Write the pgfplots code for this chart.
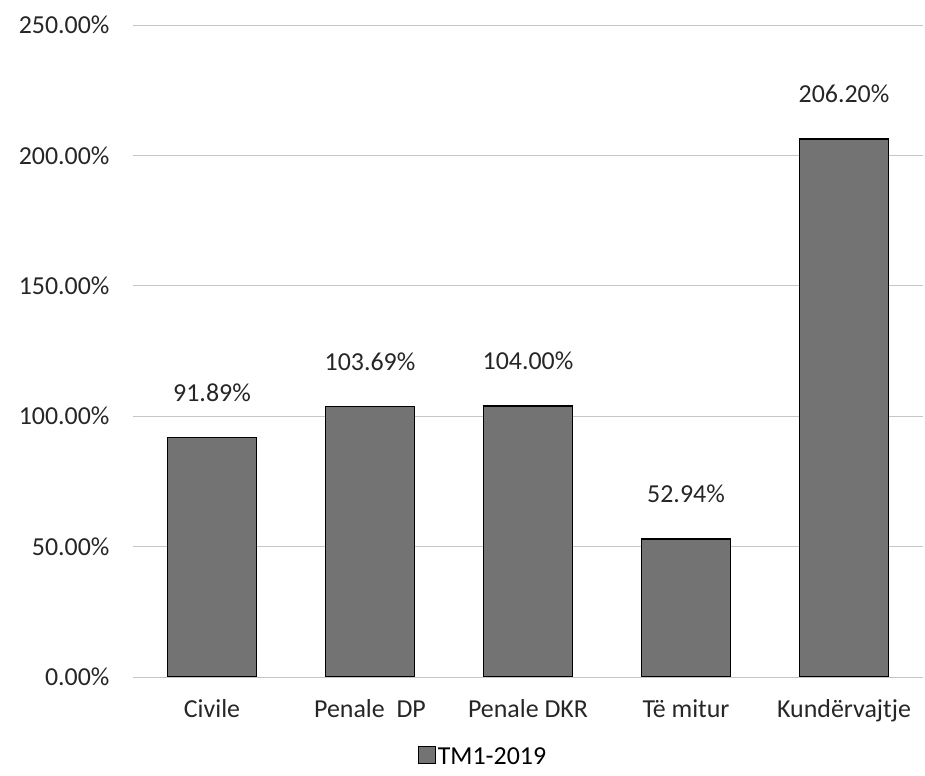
\documentclass[border=0pt]{standalone}
\usepackage{pgfplots}
\pgfplotsset{compat=1.18}
\usepackage{fontspec}
\setmainfont{Carlito}
\begin{document}
\begin{tikzpicture}[x=1bp,y=1bp]
\path[use as bounding box] (0,0) rectangle (925,776);
\begin{axis}[
  at={(133bp,99bp)}, anchor=south west,
  scale only axis, width=790bp, height=652bp,
  xmin=-0.5, xmax=4.5, ymin=0, ymax=250,
  ytick={0,50,100,150,200,250},
  xtick={0,1,2,3,4},
  xticklabels={Civile,Penale\ \ DP,Penale DKR,Të mitur,Kundërvajtje},
  axis line style={draw=none},
  major tick length=0pt,
  ymajorgrids, major grid style={gray!45, line width=0.8pt},
  /pgf/number format/assume math mode=true,
  yticklabel={\pgfmathprintnumber[fixed,fixed zerofill,precision=2]{\tick}\%},
  tick label style={font=\fontsize{26}{30}\selectfont, text=black!85},
  yticklabel style={xshift=-20bp},
  xticklabel style={yshift=-19bp},
  ybar, bar width=89bp,
  nodes near coords={\pgfmathprintnumber[fixed,fixed zerofill,precision=2]{\pgfplotspointmeta}\%},
  nodes near coords style={font=\fontsize{26}{30}\selectfont, text=black!85, yshift=32bp},
  legend style={at={(0.443,-0.122)}, anchor=center, draw=none, inner sep=1pt, font=\fontsize{26}{28}\selectfont, legend cell align=left},
  legend image code/.code={\draw[#1, draw=black, line width=1pt] (0bp,-7bp) rectangle (17bp,10bp);},
]
\addplot[fill=black!55, draw=black, line width=1.5pt] coordinates {(0,91.89) (1,103.69) (2,104.00) (3,52.94) (4,206.20)};
\addlegendentry{TM1-2019}
\end{axis}
\end{tikzpicture}
\end{document}
